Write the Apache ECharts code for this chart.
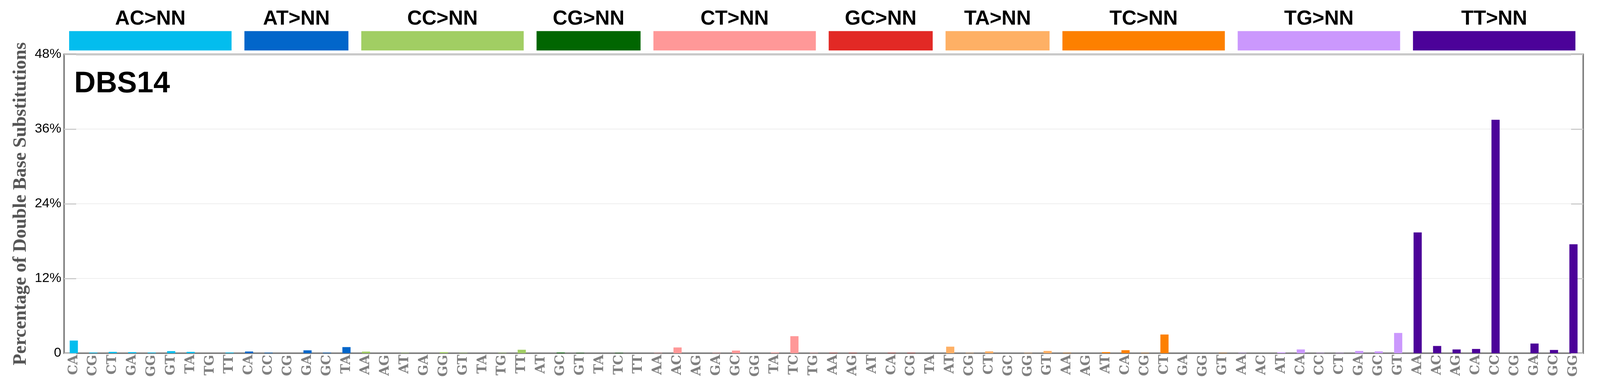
<!DOCTYPE html>
<html>
<head>
<meta charset="utf-8">
<title>DBS14</title>
<script src="https://cdn.jsdelivr.net/npm/echarts@6/dist/echarts.min.js"></script>
<style>
	html, body { margin: 0; padding: 0; background: #fff; overflow: hidden; }
	#chart { width: 100vw; height: 100vh; }
</style>
</head>
<body>
<div id="chart"></div>
<script>
// mutation classes and their colours
var groups = ['AC>NN', 'AT>NN', 'CC>NN', 'CG>NN', 'CT>NN', 'GC>NN', 'TA>NN', 'TC>NN', 'TG>NN', 'TT>NN'];
var groupColors = ['#03BDEE', '#0266CA', '#A1CE63', '#016601', '#FF9898', '#E22925', '#FEB065', '#FD8000', '#CB98FD', '#4C0299'];

// substituted dinucleotides per class
var acSubs = ['CA', 'CG', 'CT', 'GA', 'GG', 'GT', 'TA', 'TG', 'TT'];
var atSubs = ['CA', 'CC', 'CG', 'GA', 'GC', 'TA'];
var ccSubs = ['AA', 'AG', 'AT', 'GA', 'GG', 'GT', 'TA', 'TG', 'TT'];
var cgSubs = ['AT', 'GC', 'GT', 'TA', 'TC', 'TT'];
var ctSubs = ['AA', 'AC', 'AG', 'GA', 'GC', 'GG', 'TA', 'TC', 'TG'];
var gcSubs = ['AA', 'AG', 'AT', 'CA', 'CG', 'TA'];
var taSubs = ['AT', 'CG', 'CT', 'GC', 'GG', 'GT'];
var tcSubs = ['AA', 'AG', 'AT', 'CA', 'CG', 'CT', 'GA', 'GG', 'GT'];
var tgSubs = ['AA', 'AC', 'AT', 'CA', 'CC', 'CT', 'GA', 'GC', 'GT'];
var ttSubs = ['AA', 'AC', 'AG', 'CA', 'CC', 'CG', 'GA', 'GC', 'GG'];

// percentages
var acVals = [2.03, 0.10, 0.21, 0.17, 0.10, 0.33, 0.21, 0, 0.10];
var atVals = [0.27, 0.08, 0, 0.46, 0.08, 0.98];
var ccVals = [0.25, 0, 0.05, 0, 0.17, 0.05, 0, 0.05, 0.55];
var cgVals = [0, 0.10, 0.05, 0, 0.05, 0];
var ctVals = [0.05, 0.92, 0, 0.05, 0.42, 0, 0.10, 2.74, 0.05];
var gcVals = [0.05, 0.05, 0, 0.05, 0.05, 0];
var taVals = [1.05, 0.05, 0.29, 0, 0.05, 0.36];
var tcVals = [0.05, 0, 0.17, 0.48, 0.04, 3.00, 0, 0, 0.04];
var tgVals = [0.05, 0, 0.13, 0.60, 0.05, 0.05, 0.36, 0.29, 3.25];
var ttVals = [19.4, 1.16, 0.60, 0.68, 37.5, 0, 1.55, 0.52, 17.5];

var yTicks = [0, 12, 24, 36, 48];
var sigName = 'DBS14';

var allSubs = [acSubs, atSubs, ccSubs, cgSubs, ctSubs, gcSubs, taSubs, tcSubs, tgSubs, ttSubs];
var allVals = [acVals, atVals, ccVals, cgVals, ctVals, gcVals, taVals, tcVals, tgVals, ttVals];

var categories = [];
var barData = [];
var headerData = [];
var pos = 0;
allSubs.forEach(function(subs, g) {
	headerData.push([pos, pos + subs.length, g]);
	subs.forEach(function(s, i) {
		categories.push(s);
		barData.push({
			value: allVals[g][i],
			itemStyle: { color: groupColors[g] }
		});
	});
	pos += subs.length;
});

// layout was measured on a 4393x992 picture, scale it to the real window
var W = window.innerWidth || 4393;
var H = window.innerHeight || 992;
var sx = W / 4393;
var sy = H / 992;
var sf = Math.min(sx, sy);
function X(v) { return Math.round(v * sx); }
function Y(v) { return Math.round(v * sy); }
function F(v) { return Math.round(v * sf); }

var chart = echarts.init(document.getElementById('chart'));

var option = {
	animation: false,
	title: {
		text: sigName,
		left: X(198),
		top: Y(172),
		textStyle: {
			fontFamily: '"Liberation Sans", Arial, sans-serif',
			fontWeight: 'bold',
			fontSize: F(82),
			color: '#000'
		}
	},
	grid: [{
		left: X(176),
		right: X(46),
		top: Y(139),
		bottom: Y(89),
		show: true,
		borderColor: '#808080',
		borderWidth: F(4)
	}, {
		left: X(176),
		right: X(46),
		top: Y(20),
		height: Y(110)
	}],
	xAxis: [{
		type: 'category',
		gridIndex: 0,
		data: categories,
		axisLine: { lineStyle: { color: '#808080', width: F(4) } },
		axisTick: { show: false },
		axisLabel: {
			interval: 0,
			rotate: 90,
			margin: F(4),
			color: '#808080',
			fontFamily: '"DejaVu Serif", serif',
			fontWeight: 'bold',
			fontSize: F(35)
		}
	}, {
		type: 'value',
		gridIndex: 1,
		min: 0,
		max: 78,
		show: false
	}],
	yAxis: [{
		type: 'value',
		gridIndex: 0,
		min: yTicks[0],
		max: yTicks[yTicks.length - 1],
		interval: yTicks[1] - yTicks[0],
		name: 'Percentage of Double Base Substitutions',
		nameLocation: 'middle',
		nameGap: X(84),
		nameTextStyle: {
			fontFamily: '"Liberation Serif", "Times New Roman", serif',
			fontWeight: 'bold',
			fontSize: F(52),
			color: '#555555'
		},
		axisLine: { show: true, lineStyle: { color: '#808080', width: F(4) } },
		axisTick: { show: true, inside: true, length: X(33), lineStyle: { color: '#cccccc', width: F(3) } },
		axisLabel: {
			margin: F(8),
			color: '#000',
			fontFamily: '"Liberation Sans", Arial, sans-serif',
			fontSize: F(36),
			formatter: function(v) {
				return v === 0 ? '0' : v + '%';
			}
		},
		splitLine: { lineStyle: { color: '#eeeeee', width: F(2) } }
	}, {
		type: 'value',
		gridIndex: 0,
		position: 'right',
		min: yTicks[0],
		max: yTicks[yTicks.length - 1],
		interval: yTicks[1] - yTicks[0],
		axisLine: { show: true, lineStyle: { color: '#808080', width: F(4) } },
		axisTick: { show: true, inside: true, length: X(33), lineStyle: { color: '#cccccc', width: F(3) } },
		axisLabel: { show: false },
		splitLine: { show: false }
	}, {
		type: 'value',
		gridIndex: 1,
		min: 0,
		max: 1,
		show: false
	}],
	series: [{
		type: 'bar',
		xAxisIndex: 0,
		yAxisIndex: 0,
		barWidth: '42%',
		data: barData
	}, {
		type: 'custom',
		xAxisIndex: 1,
		yAxisIndex: 2,
		data: headerData,
		renderItem: function(params, api) {
			var g = api.value(2);
			var p0 = api.coord([api.value(0) + 0.26, 0.01]);
			var p1 = api.coord([api.value(1) - 0.4, 0.46]);
			var mid = (p0[0] + p1[0]) / 2;
			var txt = api.coord([0, 0.74]);
			return {
				type: 'group',
				children: [{
					type: 'rect',
					shape: { x: p0[0], y: p1[1], width: p1[0] - p0[0], height: p0[1] - p1[1] },
					style: { fill: groupColors[g] }
				}, {
					type: 'text',
					x: mid,
					y: txt[1],
					style: {
						text: groups[g],
						fill: '#000',
						font: 'bold ' + F(56) + 'px "Liberation Sans", Arial, sans-serif',
						align: 'center',
						verticalAlign: 'middle'
					}
				}]
			};
		}
	}]
};

chart.setOption(option);
</script>
</body>
</html>
